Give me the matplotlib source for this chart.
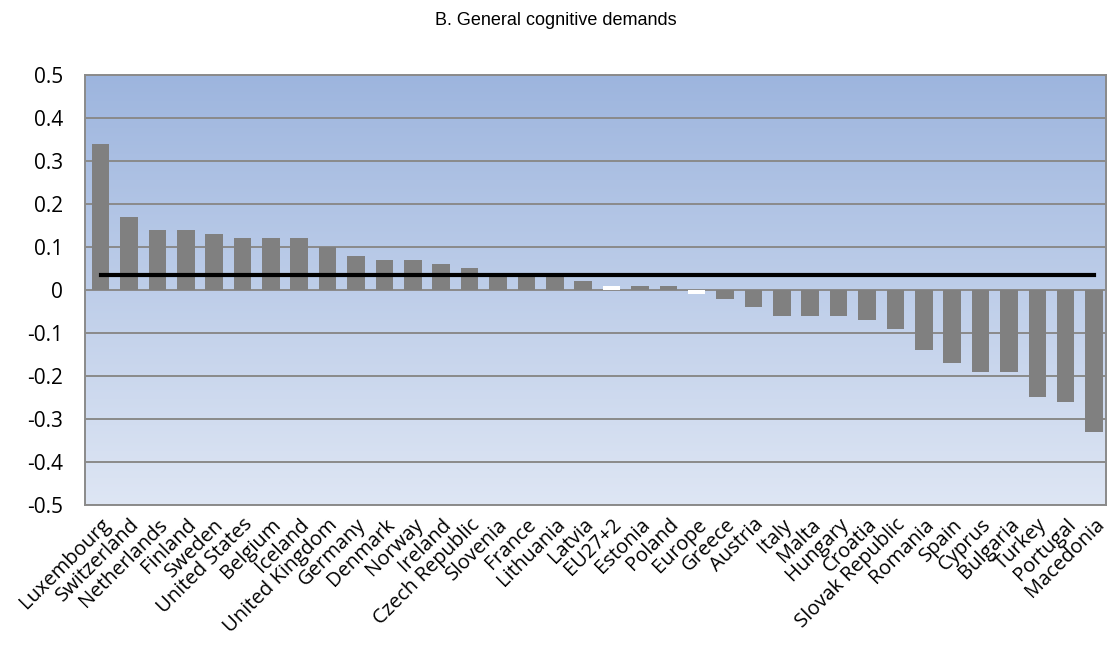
import numpy as np
import matplotlib.pyplot as plt

countries = ["Luxembourg", "Switzerland", "Netherlands", "Finland", "Sweden",
             "United States", "Belgium", "Iceland", "United Kingdom", "Germany",
             "Denmark", "Norway", "Ireland", "Czech Republic", "Slovenia", "France",
             "Lithuania", "Latvia", "EU27+2", "Estonia", "Poland", "Europe", "Greece",
             "Austria", "Italy", "Malta", "Hungary", "Croatia", "Slovak Republic",
             "Romania", "Spain", "Cyprus", "Bulgaria", "Turkey", "Portugal", "Macedonia"]
values = [0.34, 0.17, 0.14, 0.14, 0.13, 0.12, 0.12, 0.12, 0.10, 0.08,
          0.07, 0.07, 0.06, 0.05, 0.035, 0.035, 0.035, 0.02, 0.01, 0.01,
          0.01, -0.01, -0.02, -0.04, -0.06, -0.06, -0.06, -0.07, -0.09,
          -0.14, -0.17, -0.19, -0.19, -0.25, -0.26, -0.33]
highlight = ["EU27+2", "Europe"]
average = 0.035
yticks = [0.5, 0.4, 0.3, 0.2, 0.1, 0, -0.1, -0.2, -0.3, -0.4, -0.5]
ytick_labels = ["0.5", "0.4", "0.3", "0.2", "0.1", "0", "-0.1", "-0.2", "-0.3", "-0.4", "-0.5"]

fig = plt.figure(figsize=(11.11, 6.48), dpi=100)
ax = fig.add_axes([0.0765, 0.2207, 0.919, 0.6636])

# background gradient, darker blue at the top
top = np.array([157, 181, 222]) / 255
bottom = np.array([222, 230, 244]) / 255
t = np.linspace(0, 1, 256)[:, None]
grad = (top * (1 - t) + bottom * t)[:, None, :]
ax.imshow(grad, extent=[0, 1, 0, 1], transform=ax.transAxes,
          aspect="auto", zorder=0)

x = np.arange(len(countries))
colors = ["white" if c in highlight else "#808080" for c in countries]
ax.bar(x, values, width=0.62, color=colors, edgecolor="none", zorder=3)
ax.plot(x, [average] * len(x), color="black", lw=3, zorder=4)

ax.set_xlim(-0.55, len(countries) - 0.58)
ax.set_ylim(-0.5, 0.5)
ax.set_yticks(yticks)
ax.set_yticklabels(ytick_labels, fontsize=15, family="Open Sans")
ax.yaxis.grid(True, color="#8a8a8a", lw=1.4, zorder=1)
ax.set_axisbelow(True)
ax.tick_params(axis="y", length=0, pad=16)
ax.tick_params(axis="x", length=0, pad=7)
ax.set_xticks(x)
ax.set_xticklabels(countries, rotation=45, ha="right", rotation_mode="anchor",
                   fontsize=14.5, family="Open Sans")
for s in ax.spines.values():
    s.set_color("#8a8a8a")
    s.set_linewidth(1.4)

fig.text(0.5, 0.968, "B. General cognitive demands", ha="center", va="center",
         fontsize=13, family="Liberation Sans")

fig.savefig("out.png", dpi=100)
